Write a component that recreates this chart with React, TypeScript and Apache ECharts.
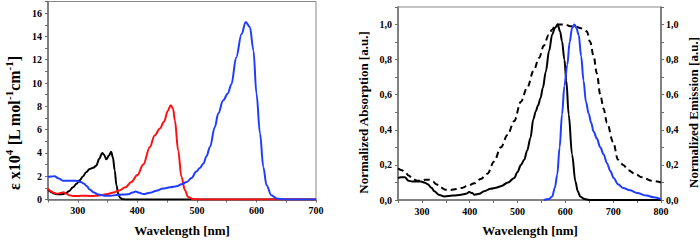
import React, { useEffect, useRef } from "react";
import * as echarts from "echarts";

// ---- Left panel: molar absorptivity (x10^4) ----
const blackAbsNm = [250, 255, 260, 265, 270, 275, 280, 285, 292, 298, 303, 309, 314, 320, 326, 331, 336, 341, 344, 348, 352, 356, 359, 362, 365, 368, 371, 375, 380, 400, 700];
const blackAbsVal = [0.85, 0.65, 0.52, 0.46, 0.45, 0.47, 0.55, 0.7, 1.05, 1.35, 1.65, 2.0, 2.35, 2.62, 2.72, 2.9, 3.5, 4.0, 3.85, 3.45, 3.75, 4.1, 3.6, 2.5, 1.2, 0.5, 0.15, 0.03, 0.01, 0, 0];

const redAbsNm = [250, 255, 260, 266, 271, 276, 281, 286, 292, 300, 310, 320, 330, 340, 350, 360, 370, 380, 390, 400, 410, 421, 429, 438, 445, 451, 456, 460, 463, 468.6, 474, 480, 485, 494, 505, 700];
const redAbsVal = [0.95, 0.7, 0.55, 0.5, 0.55, 0.62, 0.5, 0.37, 0.3, 0.3, 0.33, 0.3, 0.32, 0.38, 0.48, 0.6, 0.78, 1.05, 1.5, 2.1, 3.0, 4.5, 5.5, 6.1, 6.7, 7.6, 8.1, 7.8, 6.8, 4.2, 1.95, 0.8, 0.22, 0.03, 0, 0];

const blueAbsNm = [250, 255, 261, 268, 275, 285, 297, 305, 310, 315, 320, 327, 335, 345, 355, 365, 375, 385, 392, 397, 403, 410, 421, 432, 443, 455, 466, 474, 483, 491, 499, 505, 511, 516, 522, 530, 536, 544, 552, 558, 566, 575, 582, 589, 595, 600, 606, 611.5, 617, 625, 634, 645, 660, 700];
const blueAbsVal = [1.94, 1.97, 2.0, 1.8, 1.62, 1.6, 1.6, 1.5, 1.38, 1.15, 0.85, 0.6, 0.42, 0.33, 0.33, 0.38, 0.42, 0.45, 0.6, 0.68, 0.58, 0.47, 0.57, 0.75, 0.94, 1.05, 1.14, 1.3, 1.5, 1.85, 2.4, 2.7, 3.1, 3.7, 4.5, 6.2, 7.4, 8.5, 9.1, 9.9, 12.2, 14.2, 15.25, 14.8, 12.8, 9.1, 5.66, 2.8, 1.23, 0.37, 0.09, 0.02, 0, 0];

// ---- Right panel: normalized absorption / emission ----
const normAbsNm = [250, 256, 264, 272, 280, 298, 305, 312, 320, 326, 335, 347, 365, 382, 392, 399, 405, 410, 420, 430, 444, 455, 465, 480, 493, 500, 507, 514, 520, 527, 533, 538, 543, 548, 553, 559, 566, 572.5, 578, 584, 589, 593, 598, 602, 607, 614, 621, 626, 631, 640, 650, 800];
const normAbsVal = [0.125, 0.13, 0.13, 0.11, 0.105, 0.105, 0.1, 0.09, 0.07, 0.05, 0.03, 0.02, 0.025, 0.03, 0.035, 0.045, 0.04, 0.03, 0.035, 0.05, 0.064, 0.07, 0.078, 0.1, 0.125, 0.16, 0.2, 0.23, 0.28, 0.354, 0.46, 0.505, 0.54, 0.58, 0.64, 0.73, 0.85, 0.943, 0.98, 1.0, 0.96, 0.905, 0.8, 0.68, 0.487, 0.26, 0.106, 0.05, 0.02, 0.005, 0, 0];

const normEmNm = [555, 565, 572.5, 578, 583, 588, 593, 598, 604, 609, 614, 619, 623, 628, 633, 638, 643, 649, 654, 659, 666, 673, 680, 687, 694, 701, 710, 721, 735, 750, 770, 785, 800];
const normEmVal = [0, 0.005, 0.02, 0.07, 0.144, 0.3, 0.487, 0.65, 0.77, 0.9, 0.98, 1.0, 0.98, 0.94, 0.82, 0.68, 0.56, 0.49, 0.44, 0.39, 0.35, 0.3, 0.26, 0.21, 0.165, 0.125, 0.09, 0.068, 0.055, 0.04, 0.025, 0.015, 0.005];

const dashNm = [250, 258, 265, 272, 281, 290, 298, 307, 316, 323, 330, 340, 350, 360, 372, 382, 395, 410, 423, 437, 451, 465, 479, 493, 507, 520, 534, 545, 555, 565, 572, 580, 590, 600, 610, 620, 631, 640, 645, 652, 659, 666, 673, 680, 687, 700, 710, 721, 732, 745, 760, 780, 800];
const dashVal = [0.18, 0.17, 0.16, 0.14, 0.12, 0.11, 0.11, 0.115, 0.115, 0.105, 0.09, 0.07, 0.058, 0.057, 0.062, 0.068, 0.08, 0.095, 0.12, 0.15, 0.22, 0.3, 0.37, 0.45, 0.56, 0.64, 0.74, 0.81, 0.88, 0.94, 0.97, 1.0, 1.0, 1.0, 0.99, 0.99, 0.98, 0.97, 0.96, 0.9, 0.82, 0.72, 0.6, 0.52, 0.44, 0.33, 0.23, 0.2, 0.17, 0.15, 0.13, 0.11, 0.1];

const zip = (xs: number[], ys: number[]) => xs.map((x, i) => [x, ys[i]]);

const FONT = "'Liberation Serif', 'Times New Roman', serif";
const AXIS_COLOR = "#6b6b6b";

export default function App() {
  const ref = useRef<HTMLDivElement>(null);
  useEffect(() => {
    if (!ref.current) return;
    const chart = echarts.init(ref.current, null, { renderer: "svg" });
    const labelStyle = {
      color: "#000",
      fontFamily: FONT,
      fontWeight: "bold" as const,
      fontSize: 10,
    };
    const axisLine = { show: true, lineStyle: { color: AXIS_COLOR, width: 1.5 } };
    const axisTick = { show: true, length: 3, lineStyle: { color: AXIS_COLOR, width: 1 } };
    const xLabel = { ...labelStyle, margin: 6, formatter: (v: number) => (Math.round(v) % 100 === 0 ? String(Math.round(v)) : "") };
    const normLabel = (margin: number) => ({
      ...labelStyle,
      margin,
      formatter: (v: number) => {
        const k = Math.round(v * 10);
        return k % 2 === 0 ? (k / 10).toFixed(1).replace(".", ",") : "";
      },
    });
    const lineBase = (color: string, width = 2) => ({
      type: "line" as const,
      showSymbol: false,
      smooth: 0.35,
      smoothMonotone: "x" as const,
      lineStyle: { color, width },
      silent: true,
    });
    const titleStyle = { fontFamily: FONT, fontWeight: "bold" as const, fontSize: 13, fill: "#000" };
    chart.setOption({
      animation: false,
      grid: [
        { left: 48, top: 1.5, width: 268, height: 198, show: true, borderColor: "#888", borderWidth: 1, backgroundColor: "transparent" },
        { left: 398, top: 7, width: 263, height: 193, show: true, borderColor: "#888", borderWidth: 1, backgroundColor: "transparent" },
      ],
      xAxis: [
        { type: "value", gridIndex: 0, min: 250, max: 700, interval: 50, axisLine, axisTick, axisLabel: xLabel, splitLine: { show: false } },
        { type: "value", gridIndex: 1, min: 250, max: 800, interval: 50, axisLine, axisTick, axisLabel: xLabel, splitLine: { show: false } },
      ],
      yAxis: [
        {
          type: "value", gridIndex: 0, min: 0, max: 17, interval: 1, axisLine, axisTick,
          axisLabel: { ...labelStyle, margin: 6, formatter: (v: number) => (Math.round(v) % 2 === 0 && v <= 16 ? String(Math.round(v)) : "") },
          splitLine: { show: false },
        },
        { type: "value", gridIndex: 1, position: "left", min: 0, max: 1.1, interval: 0.1, axisLine, axisTick, axisLabel: normLabel(6), splitLine: { show: false } },
        { type: "value", gridIndex: 1, position: "right", min: 0, max: 1.1, interval: 0.1, axisLine, axisTick, axisLabel: normLabel(5), splitLine: { show: false } },
      ],
      series: [
        { ...lineBase("#000000"), name: "black", xAxisIndex: 0, yAxisIndex: 0, data: zip(blackAbsNm, blackAbsVal), z: 3 },
        { ...lineBase("#ff1010"), name: "red", xAxisIndex: 0, yAxisIndex: 0, data: zip(redAbsNm, redAbsVal), z: 4 },
        { ...lineBase("#1f3cff"), name: "blue", xAxisIndex: 0, yAxisIndex: 0, data: zip(blueAbsNm, blueAbsVal), z: 5 },
        { ...lineBase("#000000"), name: "abs", xAxisIndex: 1, yAxisIndex: 1, data: zip(normAbsNm, normAbsVal), z: 4 },
        { ...lineBase("#1f3cff"), name: "em", xAxisIndex: 1, yAxisIndex: 1, data: zip(normEmNm, normEmVal), z: 5 },
        {
          ...lineBase("#000000"), name: "em2", xAxisIndex: 1, yAxisIndex: 2, data: zip(dashNm, dashVal), z: 3,
          lineStyle: { color: "#000", width: 2, type: [6, 4] },
        },
      ],
      graphic: [
        {
          type: "text", x: 13, y: 123, rotation: Math.PI / 2,
          style: {
            text: "{a|ε x10}{s|4}{a| [L mol}{s|-1}{a|cm}{s|-1}{a|]}",
            align: "center", verticalAlign: "middle",
            rich: {
              a: { ...titleStyle, fontSize: 16, lineHeight: 19, verticalAlign: "bottom" },
              s: { ...titleStyle, fontSize: 11, lineHeight: 11, verticalAlign: "top" },
            },
          },
        },
        { type: "text", x: 182, y: 230, style: { ...titleStyle, text: "Wavelength [nm]", align: "center", verticalAlign: "middle" } },
        { type: "text", x: 530, y: 230, style: { ...titleStyle, text: "Wavelength [nm]", align: "center", verticalAlign: "middle" } },
        { type: "text", x: 363.5, y: 112.5, rotation: Math.PI / 2, style: { ...titleStyle, text: "Normalized Absorption [a.u.]", align: "center", verticalAlign: "middle" } },
        { type: "text", x: 693, y: 112.5, rotation: Math.PI / 2, style: { ...titleStyle, text: "Normalized Emission [a.u.]", align: "center", verticalAlign: "middle" } },
      ],
    });
    return () => chart.dispose();
  }, []);
  return <div ref={ref} style={{ width: 700, height: 241, position: "absolute", left: 0, top: 0 }} />;
}
